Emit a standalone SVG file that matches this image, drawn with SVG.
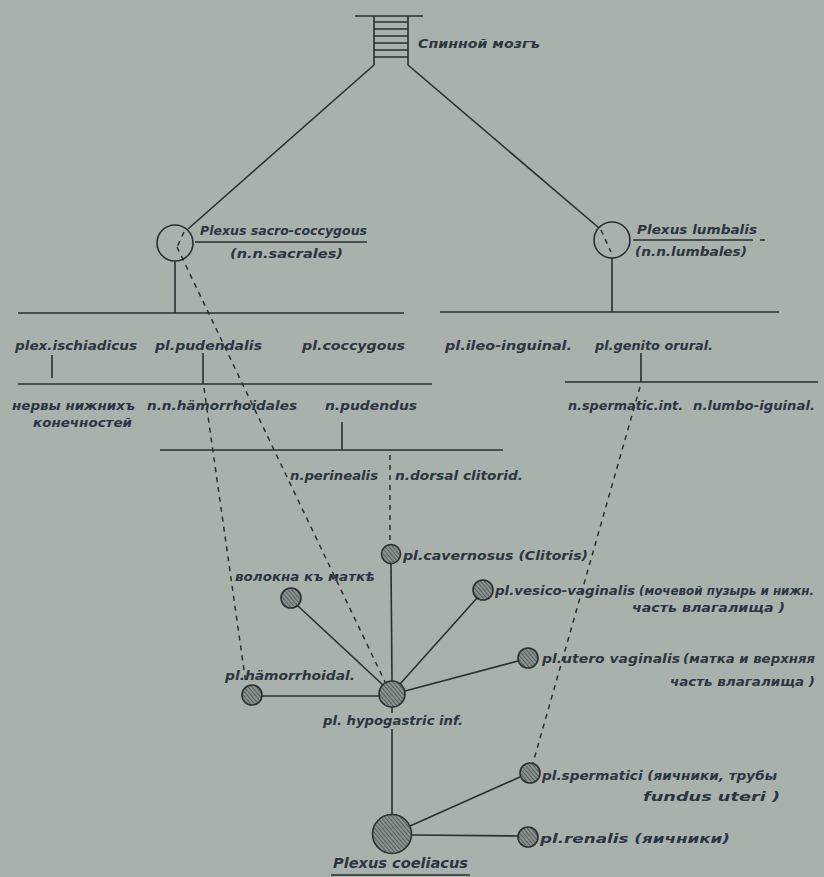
<svg xmlns="http://www.w3.org/2000/svg" width="824" height="877" viewBox="0 0 824 877">
<defs>
<pattern id="hatch" patternUnits="userSpaceOnUse" width="3" height="3" patternTransform="rotate(-40)">
<rect width="3" height="3" fill="#8c9490"/>
<line x1="0" y1="0" x2="0" y2="3" stroke="#3d4345" stroke-width="1.4"/>
</pattern>
<style>
.bg{fill:#a9b1ac}
.ln{stroke:#2a2f31;stroke-width:1.6;fill:none}
.ds{stroke:#2a2f31;stroke-width:1.5;fill:none;stroke-dasharray:5 5}
.ring{fill:none;stroke:#2a2f31;stroke-width:1.6}
.hn{fill:url(#hatch);stroke:#2a2f31;stroke-width:1.6}
.t{font-family:"DejaVu Sans","Noto Sans",sans-serif;font-style:italic;font-weight:bold;font-size:13px;fill:#2c3541}
.ts{font-family:"DejaVu Sans","Noto Sans",sans-serif;font-style:italic;font-weight:bold;font-size:11.5px;fill:#2c3541}
.tb{font-family:"DejaVu Sans","Noto Sans",sans-serif;font-style:italic;font-weight:bold;font-size:14px;fill:#2c3541}
</style>
</defs>
<rect class="bg" x="0" y="0" width="824" height="877"/>

<g id="connectors">
<line class="ln" x1="374" y1="65" x2="188" y2="229"/>
<line class="ln" x1="408" y1="65" x2="599" y2="228"/>
<line class="ln" x1="175" y1="261" x2="175" y2="313"/>
<line class="ln" x1="612" y1="258" x2="612" y2="312"/>
<line class="ln" x1="18" y1="313" x2="404" y2="313"/>
<line class="ln" x1="440" y1="312" x2="779" y2="312"/>
<line class="ln" x1="18" y1="384" x2="432" y2="384"/>
<line class="ln" x1="565" y1="382" x2="818" y2="382"/>
<line class="ln" x1="160" y1="450" x2="503" y2="450"/>
<line class="ln" x1="52" y1="355" x2="52" y2="378"/>
<line class="ln" x1="203" y1="353" x2="203" y2="384"/>
<line class="ln" x1="641" y1="353" x2="641" y2="382"/>
<line class="ln" x1="342" y1="422" x2="342" y2="450"/>
<line class="ds" x1="184" y1="232" x2="177" y2="247"/>
<line class="ds" x1="177" y1="247" x2="386" y2="684"/>
<line class="ds" x1="601" y1="230" x2="611" y2="252"/>
<line class="ds" x1="204" y1="388" x2="246" y2="684"/>
<line class="ds" x1="390" y1="455" x2="390" y2="544"/>
<line class="ds" x1="640" y1="387" x2="533" y2="763"/>
<line class="ln" x1="391" y1="564" x2="392" y2="681"/>
<line class="ln" x1="298" y1="606" x2="383" y2="685"/>
<line class="ln" x1="477" y1="598" x2="400" y2="684"/>
<line class="ln" x1="518" y1="661" x2="405" y2="691"/>
<line class="ln" x1="262" y1="696" x2="379" y2="696"/>
<line class="ln" x1="392" y1="707" x2="392" y2="713"/>
<line class="ln" x1="392" y1="729" x2="392" y2="814"/>
<line class="ln" x1="410" y1="826" x2="520" y2="777"/>
<line class="ln" x1="412" y1="835" x2="518" y2="836"/>
</g>

<g id="spinal-cord">
<line class="ln" x1="355" y1="16" x2="423" y2="16"/>
<line class="ln" x1="374" y1="16" x2="374" y2="65"/>
<line class="ln" x1="408" y1="16" x2="408" y2="65"/>
<path class="ln" d="M374 22H408M374 29H408M374 36H408M374 43H408M374 50H408M374 57H408"/>
<text class="t" x="418" y="48" textLength="122" lengthAdjust="spacingAndGlyphs">Спинной мозгъ</text>
</g>

<g id="plexus-sacro">
<circle class="ring" cx="175" cy="243" r="18"/>
<text class="t" x="200" y="235" textLength="167" lengthAdjust="spacingAndGlyphs">Plexus sacro-coccygous</text>
<line class="ln" x1="195" y1="242" x2="367" y2="242"/>
<text class="t" x="230" y="258" textLength="113" lengthAdjust="spacingAndGlyphs">(n.n.sacrales)</text>
</g>

<g id="plexus-lumbalis">
<circle class="ring" cx="612" cy="240" r="18"/>
<text class="t" x="637" y="234" textLength="120" lengthAdjust="spacingAndGlyphs">Plexus lumbalis</text>
<line class="ln" x1="633" y1="240" x2="753" y2="240"/>
<line class="ln" x1="760" y1="240" x2="765" y2="240"/>
<text class="t" x="635" y="256" textLength="112" lengthAdjust="spacingAndGlyphs">(n.n.lumbales)</text>
</g>

<g id="row1">
<text class="t" x="15" y="350" textLength="122" lengthAdjust="spacingAndGlyphs">plex.ischiadicus</text>
<text class="t" x="155" y="350" textLength="107" lengthAdjust="spacingAndGlyphs">pl.pudendalis</text>
<text class="t" x="302" y="350" textLength="103" lengthAdjust="spacingAndGlyphs">pl.coccygous</text>
<text class="t" x="445" y="350" textLength="127" lengthAdjust="spacingAndGlyphs">pl.ileo-inguinal.</text>
<text class="t" x="595" y="350" textLength="118" lengthAdjust="spacingAndGlyphs">pl.genito orural.</text>
</g>

<g id="row2">
<text class="t" x="12" y="410" textLength="123" lengthAdjust="spacingAndGlyphs">нервы нижнихъ</text>
<text class="t" x="33" y="427" textLength="99" lengthAdjust="spacingAndGlyphs">конечностей</text>
<text class="t" x="147" y="410" textLength="150" lengthAdjust="spacingAndGlyphs">n.n.hämorrhoidales</text>
<text class="t" x="325" y="410" textLength="92" lengthAdjust="spacingAndGlyphs">n.pudendus</text>
<text class="t" x="568" y="410" textLength="115" lengthAdjust="spacingAndGlyphs">n.spermatic.int.</text>
<text class="t" x="693" y="410" textLength="122" lengthAdjust="spacingAndGlyphs">n.lumbo-iguinal.</text>
</g>

<g id="row3">
<text class="t" x="290" y="480" textLength="88" lengthAdjust="spacingAndGlyphs">n.perinealis</text>
<text class="t" x="395" y="480" textLength="128" lengthAdjust="spacingAndGlyphs">n.dorsal clitorid.</text>
</g>

<g id="pl-cavernosus">
<circle class="hn" cx="391" cy="554" r="9.5"/>
<text class="t" x="403" y="560" textLength="185" lengthAdjust="spacingAndGlyphs">pl.cavernosus (Clitoris)</text>
</g>

<g id="volokna">
<circle class="hn" cx="291" cy="598" r="10"/>
<text class="t" x="235" y="581" textLength="140" lengthAdjust="spacingAndGlyphs">волокна къ маткѣ</text>
</g>

<g id="pl-vesico-vaginalis">
<circle class="hn" cx="483" cy="590" r="10"/>
<text class="t" x="495" y="595" textLength="140" lengthAdjust="spacingAndGlyphs">pl.vesico-vaginalis</text>
<text class="ts" x="639" y="595" textLength="175" lengthAdjust="spacingAndGlyphs">(мочевой пузырь и нижн.</text>
<text class="t" x="632" y="612" textLength="153" lengthAdjust="spacingAndGlyphs">часть влагалища )</text>
</g>

<g id="pl-utero-vaginalis">
<circle class="hn" cx="528" cy="658" r="10"/>
<text class="t" x="542" y="663" textLength="138" lengthAdjust="spacingAndGlyphs">pl.utero vaginalis</text>
<text class="t" x="683" y="663" textLength="132" lengthAdjust="spacingAndGlyphs">(матка и верхняя</text>
<text class="t" x="670" y="686" textLength="145" lengthAdjust="spacingAndGlyphs">часть влагалища )</text>
</g>

<g id="pl-haemorrhoidal">
<circle class="hn" cx="252" cy="695" r="10"/>
<text class="t" x="225" y="680" textLength="130" lengthAdjust="spacingAndGlyphs">pl.hämorrhoidal.</text>
</g>

<g id="pl-hypogastric">
<circle class="hn" cx="392" cy="694" r="13"/>
<text class="t" x="323" y="725" textLength="140" lengthAdjust="spacingAndGlyphs">pl. hypogastric inf.</text>
</g>

<g id="pl-spermatici">
<circle class="hn" cx="530" cy="773" r="10"/>
<text class="t" x="542" y="780" textLength="235" lengthAdjust="spacingAndGlyphs">pl.spermatici (яичники, трубы</text>
<text class="t" x="643" y="801" textLength="137" lengthAdjust="spacingAndGlyphs">fundus  uteri   )</text>
</g>

<g id="pl-renalis">
<circle class="hn" cx="528" cy="837" r="10"/>
<text class="t" x="540" y="843" textLength="190" lengthAdjust="spacingAndGlyphs">pl.renalis  (яичники)</text>
</g>

<g id="plexus-coeliacus">
<circle class="hn" cx="392" cy="834" r="19.5"/>
<text class="tb" x="333" y="868" textLength="135" lengthAdjust="spacingAndGlyphs">Plexus coeliacus</text>
<line class="ln" x1="331" y1="875" x2="470" y2="875"/>
</g>
</svg>
